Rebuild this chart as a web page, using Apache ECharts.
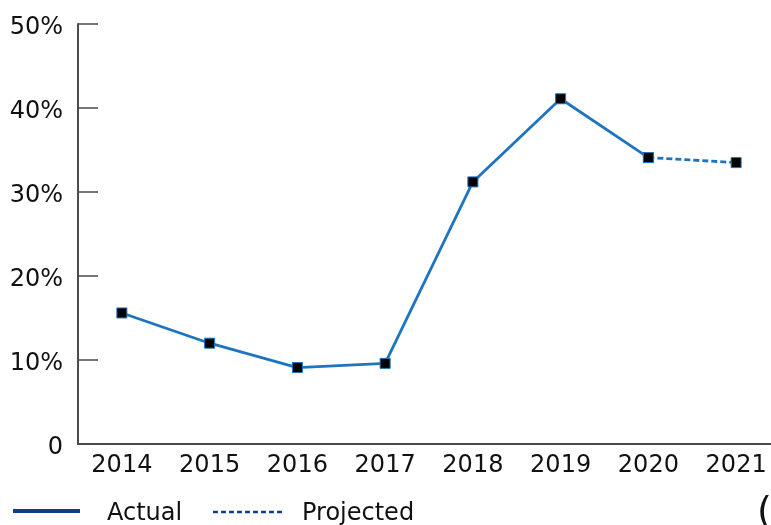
<!DOCTYPE html>
<html>
<head>
<meta charset="utf-8">
<script src="https://cdn.jsdelivr.net/npm/echarts@6/dist/echarts.min.js"></script>
<style>
  html, body { margin: 0; padding: 0; background: #fff; overflow: hidden; }
  /* the plot area runs a few pixels past the right edge of the window */
  #chart { width: 780px; height: 525px; }
</style>
</head>
<body>
<div id="chart"></div>
<script>
// Yearly share, in percent
const years = ['2014', '2015', '2016', '2017', '2018', '2019', '2020', '2021'];
const actual = [15.6, 12.0, 9.1, 9.6, 31.2, 41.1, 34.1, null];
const projected = [null, null, null, null, null, null, 34.1, 33.5];
const yTicks = [0, 10, 20, 30, 40, 50];

const FONT = 'DejaVu Sans';
const LINE_BLUE = '#1f74c0';
const LEGEND_NAVY = '#0f3f8a';
const AXIS_GREY = '#4a4a4a';

const chart = echarts.init(document.getElementById('chart'), null, { renderer: 'canvas' });

const markerStyle = { color: '#000', borderColor: LINE_BLUE, borderWidth: 1 };

chart.setOption({
  animation: false,
  backgroundColor: '#ffffff',
  grid: { left: 78, top: 24, right: 0, bottom: 81, containLabel: false },
  xAxis: {
    type: 'category',
    data: years,
    boundaryGap: true,
    axisLine: { lineStyle: { color: AXIS_GREY, width: 2 } },
    axisTick: { inside: true, length: 10, lineStyle: { color: AXIS_GREY, width: 1.5 } },
    axisLabel: { color: '#111', fontFamily: FONT, fontSize: 24, margin: 10 },
    splitLine: { show: false }
  },
  yAxis: {
    type: 'value',
    min: yTicks[0],
    max: yTicks[yTicks.length - 1],
    interval: 10,
    axisLine: { show: true, lineStyle: { color: AXIS_GREY, width: 2 } },
    axisTick: { show: true, inside: true, length: 20, lineStyle: { color: AXIS_GREY, width: 1.5 } },
    axisLabel: {
      color: '#111', fontFamily: FONT, fontSize: 24, margin: 15,
      formatter: v => '{v|' + (v === 0 ? '0' : v + '%') + '}',
      rich: { v: { fontFamily: FONT, fontSize: 24, color: '#111', padding: [8, 0, 0, 0] } }
    },
    splitLine: { show: false }
  },
  series: [
    {
      name: 'Actual',
      type: 'line',
      data: actual,
      symbol: 'rect',
      symbolSize: 10,
      lineStyle: { color: LINE_BLUE, width: 2.8 },
      itemStyle: markerStyle,
      z: 3
    },
    {
      name: 'Projected',
      type: 'line',
      data: projected,
      symbol: 'rect',
      symbolSize: 10,
      lineStyle: { color: LINE_BLUE, width: 2.8, type: [6, 3] },
      itemStyle: markerStyle,
      z: 2
    }
  ],
  graphic: [
    // legend: solid line for actual values
    { type: 'line', shape: { x1: 13, y1: 511, x2: 80, y2: 511 },
      style: { stroke: LEGEND_NAVY, lineWidth: 4 } },
    { type: 'text', left: 107, top: 502,
      style: { text: 'Actual', font: '24px "' + FONT + '"', fill: '#111' } },
    // legend: dotted line for projected values
    { type: 'line', shape: { x1: 213, y1: 512, x2: 285, y2: 512 },
      style: { stroke: LEGEND_NAVY, lineWidth: 2.5, lineDash: [5, 3] } },
    { type: 'text', left: 302, top: 502,
      style: { text: 'Projected', font: '24px "' + FONT + '"', fill: '#111' } },
    // glyph cut by the right edge
    { type: 'text', left: 757, top: 494,
      style: { text: '(', font: '38px "' + FONT + '"', fill: '#111' } }
  ]
});
</script>
</body>
</html>
